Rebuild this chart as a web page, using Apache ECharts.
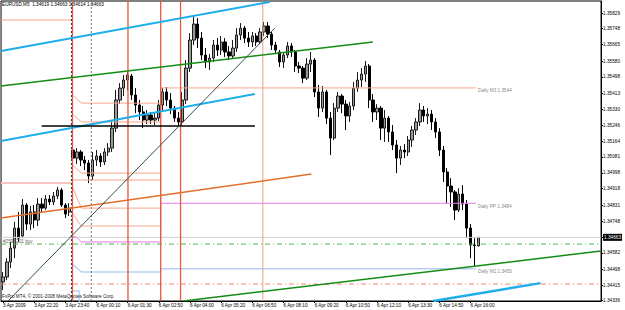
<!DOCTYPE html>
<html><head><meta charset="utf-8">
<script src="https://cdn.jsdelivr.net/npm/echarts@6/dist/echarts.min.js"></script>
<style>html,body{margin:0;padding:0;background:#fff}#c{width:625px;height:310px}</style>
</head><body><div id="c"></div>
<script>
// ---- data ----
const timeLabels = ['3 Apr 2009','3 Apr 22:20','3 Apr 23:40','6 Apr 00:10','6 Apr 01:30','6 Apr 02:50','6 Apr 04:00','6 Apr 05:20','6 Apr 06:50','6 Apr 08:10','6 Apr 09:20','6 Apr 10:50','6 Apr 12:10','6 Apr 13:30','6 Apr 14:50','6 Apr 16:00'];
const yTickLabels = ['1.35829','1.35748','1.35665','1.35580','1.35498','1.35413','1.35330','1.35246','1.35164','1.35081','1.34998','1.34918','1.34831','1.34748','1.34663','1.34582','1.34498','1.34415','1.34336'];
const currentPrice = '1.34663';

const candleOpen = [1.34431,1.34457,1.34535,1.34607,1.34711,1.34670,1.34831,1.34732,1.34795,1.34753,1.34836,1.34815,1.34862,1.34847,1.34878,1.34909,1.34831,1.34795,
1.35117,1.35075,1.35107,1.35065,1.35049,1.34982,1.35065,1.35086,1.35055,1.35107,1.35127,1.35231,1.35377,1.35439,1.35481,1.35502,1.35403,1.35351,1.35315,1.35273,1.35299,1.35273,1.35283,1.35351,1.35419,1.35377,1.35335,1.35283,1.35263,1.35377,1.35543,1.35689,1.35772,1.35699,1.35611,1.35575,1.35595,1.35663,1.35637,1.35679,1.35627,1.35606,1.35647,1.35715,1.35751,1.35699,1.35679,1.35710,1.35679,1.35731,1.35762,1.35720,1.35663,1.35627,1.35575,1.35611,1.35658,1.35627,1.35554,1.35543,1.35491,1.35564,1.35585,1.35419,1.35335,1.35419,1.35283,1.35179,1.35335,1.35398,1.35356,1.35294,1.35346,1.35439,1.35481,1.35512,1.35554,1.35377,1.35315,1.35335,1.35231,1.35283,1.35211,1.35143,1.35075,1.35117,1.35107,1.35169,1.35221,1.35263,1.35325,1.35294,1.35304,1.35263,1.35211,1.35117,1.35003,1.34930,1.34899,1.34805,1.34888,1.34836,1.34711,1.34623,1.34619];
const candleClose = [1.34457,1.34535,1.34607,1.34711,1.34659,1.34831,1.34732,1.34795,1.34753,1.34836,1.34815,1.34862,1.34847,1.34878,1.34909,1.34831,1.34784,1.34815,
1.35075,1.35107,1.35065,1.35049,1.34982,1.35065,1.35086,1.35055,1.35107,1.35127,1.35231,1.35377,1.35439,1.35481,1.35507,1.35403,1.35351,1.35315,1.35273,1.35299,1.35273,1.35283,1.35351,1.35419,1.35377,1.35335,1.35283,1.35263,1.35377,1.35543,1.35689,1.35772,1.35699,1.35611,1.35575,1.35595,1.35663,1.35637,1.35679,1.35627,1.35606,1.35647,1.35715,1.35751,1.35699,1.35679,1.35710,1.35679,1.35731,1.35762,1.35720,1.35663,1.35637,1.35575,1.35611,1.35658,1.35627,1.35554,1.35543,1.35491,1.35564,1.35585,1.35419,1.35335,1.35419,1.35283,1.35179,1.35335,1.35398,1.35356,1.35294,1.35346,1.35439,1.35481,1.35512,1.35554,1.35377,1.35315,1.35335,1.35231,1.35283,1.35211,1.35143,1.35075,1.35117,1.35107,1.35169,1.35221,1.35263,1.35325,1.35294,1.35304,1.35263,1.35211,1.35117,1.35003,1.34930,1.34899,1.34805,1.34888,1.34836,1.34711,1.34623,1.34620,1.34663];
const candleLow = [1.34389,1.34441,1.34503,1.34555,1.34639,1.34659,1.34701,1.34701,1.34711,1.34722,1.34795,1.34805,1.34831,1.34831,1.34862,1.34821,1.34763,1.34774,
1.35055,1.35044,1.35034,1.35013,1.34945,1.34961,1.35034,1.35029,1.35039,1.35086,1.35107,1.35211,1.35356,1.35398,1.35429,1.35377,1.35309,1.35273,1.35231,1.35252,1.35252,1.35247,1.35268,1.35325,1.35346,1.35304,1.35263,1.35242,1.35247,1.35356,1.35523,1.35663,1.35647,1.35585,1.35543,1.35533,1.35575,1.35606,1.35611,1.35601,1.35585,1.35595,1.35627,1.35689,1.35673,1.35653,1.35653,1.35658,1.35668,1.35710,1.35699,1.35637,1.35616,1.35549,1.35543,1.35595,1.35601,1.35523,1.35517,1.35465,1.35481,1.35523,1.35393,1.35289,1.35315,1.35252,1.35091,1.35169,1.35315,1.35309,1.35221,1.35263,1.35325,1.35419,1.35445,1.35471,1.35335,1.35263,1.35273,1.35169,1.35159,1.35159,1.35117,1.34997,1.35039,1.35075,1.35086,1.35133,1.35195,1.35242,1.35263,1.35252,1.35221,1.35179,1.35086,1.34951,1.34841,1.34821,1.34753,1.34795,1.34805,1.34659,1.34555,1.34509,1.34614];
const candleHigh = [1.34483,1.34555,1.34639,1.34743,1.34795,1.34862,1.34841,1.34826,1.34831,1.34867,1.34867,1.34883,1.34883,1.34899,1.34925,1.34919,1.34841,1.34841,
1.35138,1.35127,1.35117,1.35086,1.35065,1.35107,1.35117,1.35101,1.35127,1.35153,1.35273,1.35429,1.35465,1.35507,1.35523,1.35512,1.35439,1.35377,1.35346,1.35325,1.35315,1.35309,1.35377,1.35439,1.35445,1.35413,1.35346,1.35315,1.35419,1.35585,1.35725,1.35819,1.35803,1.35731,1.35647,1.35616,1.35689,1.35699,1.35710,1.35699,1.35658,1.35689,1.35751,1.35777,1.35762,1.35731,1.35731,1.35725,1.35751,1.35783,1.35783,1.35731,1.35679,1.35637,1.35627,1.35679,1.35673,1.35637,1.35575,1.35554,1.35595,1.35627,1.35595,1.35455,1.35450,1.35429,1.35315,1.35361,1.35419,1.35408,1.35377,1.35367,1.35471,1.35523,1.35543,1.35580,1.35564,1.35408,1.35356,1.35346,1.35325,1.35294,1.35247,1.35169,1.35138,1.35148,1.35190,1.35242,1.35283,1.35361,1.35346,1.35335,1.35325,1.35283,1.35231,1.35138,1.35023,1.34971,1.34909,1.34919,1.34935,1.34857,1.34732,1.34659,1.34663];

// overlay objects: [bar position, price]
const cyanTop   = [[0,1.35632],[68.97,1.35887]];
const cyanMid   = [[0,1.35164],[65.16,1.35408]];
const cyanLow   = [[110.97,1.34332],[138.46,1.34425]];
const greenTop  = [[0,1.35450],[95.44,1.35679]];
const greenLow  = [[46.83,1.34332],[153.98,1.34592]];
const orangeLine= [[0,1.34763],[79.66,1.34992]];
const blackLine = [[10.44,1.35242],[65.16,1.35242]];
const slateLine = [[1.78,1.34332],[70.25,1.35751]];

const friSalmon = [[0,1.35793],[18.33,1.35793]];
const friPink   = [[0,1.34945],[18.33,1.34945]];
const monSalmon = [
  [[18.33,1.35403],[20.62,1.35361],[40.98,1.35361]],
  [[18.33,1.35304],[20.62,1.35263],[40.98,1.35263]],
  [[18.33,1.35039],[20.62,1.34997],[40.98,1.34997]],
  [[18.33,1.34961],[40.98,1.34961]],
  [[18.33,1.34925],[20.62,1.34815],[40.98,1.34815]],
  [[18.33,1.34789],[20.62,1.34722],[40.98,1.34722]]
];
const pivotM3 = [[40.98,1.34722],[40.98,1.3544],[121.91,1.3544]];
const pivotPP = [[18.33,1.3430],[18.33,1.34665],[19.34,1.34665],[20.62,1.34639],[40.98,1.34639],[40.98,1.3484],[121.91,1.3484]];
const pivotM2 = [[18.33,1.34524],[20.62,1.34483],[40.98,1.34483],[40.98,1.3450],[121.91,1.3450]];
const blueStep = [[18.33,1.34384],[20.11,1.34384],[20.11,1.3430]];
const pivotLabels = ['Daily M3 1.3544','Daily PP 1.3484','Daily M2 1.3450'];

const redVerticals = [18.33, 32.58, 40.98, 46.07];
const lightRedVertical = 67.19;
const dashedVerticals = [18.07, 23.16];
const bidPrice = 1.34663, orderPrice = 1.34628, stopPrice = 1.34420;

const yMin = 1.34332, yMax = 1.35892, nCats = 154;
// ---------------------------------

const FF = 'Liberation Sans, Arial, sans-serif';
const FS = 4.7;
const cats = Array.from({length:nCats}, (_, i) => String(i));
const labelShown = (idx) => idx % 8 === 0 && (idx / 8) < timeLabels.length;
const yTickValues = yTickLabels.map(Number);
const candleData = candleOpen.map((o, i) => [o, candleClose[i], candleLow[i], candleHigh[i]]);
const vLine = (u) => [[u, yMin], [u, yMax]];
const hLine = (p) => [[0, p], [nCats, p]];

function ln(data, color, width, extra) {
  return Object.assign({
    type:'line', xAxisIndex:1, yAxisIndex:0, data, symbol:'none', silent:true, clip:true,
    lineStyle:{color, width}, z:3, animation:false
  }, extra || {});
}
function endLbl(text){ return {endLabel:{show:true, formatter:text, color:'#8a8a8a', fontSize:FS, fontFamily:FF, distance:2, offset:[0,3]}}; }

const series = [
  {type:'candlestick', xAxisIndex:0, yAxisIndex:0, data:candleData, barWidth:2.8, z:2, silent:true,
   itemStyle:{color:'#9a9a9a', color0:'#000000', borderColor:'#1a1a1a', borderColor0:'#000000', borderWidth:1}},
  ln(hLine(bidPrice), '#CFCFCF', 1),
  ln(hLine(orderPrice), '#46B946', 1, {lineStyle:{color:'#46B946', width:1, type:[5,3,1,3]}}),
  ln(hLine(stopPrice), '#F08272', 1, {lineStyle:{color:'#F08272', width:1, type:[5,3,1,3]}}),
  ln(friSalmon, '#F6A68E', 1),
  ln(friPink, '#F7C4C4', 2),
  ...monSalmon.map(d => ln(d, '#F6A68E', 1)),
  ln(pivotM3, '#F6A68E', 1, endLbl(pivotLabels[0])),
  ln(pivotPP, '#E77EE6', 1, endLbl(pivotLabels[1])),
  ln(pivotM2, '#B9CFF6', 1.5, endLbl(pivotLabels[2])),
  ln(blueStep, '#B9CFF6', 1.5),
  ...redVerticals.map(u => ln(vLine(u), '#E8573F', 1.3)),
  ln(vLine(lightRedVertical), '#F29A8A', 1),
  ...dashedVerticals.map((u, k) => ln(vLine(u), '#000', 1, {lineStyle:{color: k === 0 ? '#333333' : '#777777', width:1, type:[2,2]}})),
  ln(cyanTop, '#1FAEEB', 2),
  ln(cyanMid, '#1FAEEB', 2),
  ln(cyanLow, '#1FAEEB', 2.5),
  ln(greenTop, '#148C14', 1.5),
  ln(greenLow, '#148C14', 1.5),
  ln(orangeLine, '#E0702A', 1.5),
  ln(blackLine, '#000000', 1.5),
  ln(slateLine, '#2F4F4F', 1)
];

const chart = echarts.init(document.getElementById('c'), null, {renderer:'svg'});
chart.setOption({
  animation:false,
  backgroundColor:'#ffffff',
  textStyle:{fontFamily:FF},
  title:[
    {text:'EURUSD,M5  1.34619 1.34663 1.34614 1.34663', left:2, top:2, padding:0,
     textStyle:{fontSize:FS, fontWeight:'normal', color:'#000', fontFamily:FF}},
    {text:'FxPro MT4, © 2001-2008 MetaQuotes Software Corp.', left:2, top:294, padding:0,
     textStyle:{fontSize:FS, fontWeight:'normal', color:'#222', fontFamily:FF}},
    {text:'#2594201 buy', left:3, top:239, padding:0,
     textStyle:{fontSize:FS, fontWeight:'normal', color:'#666', fontFamily:FF}}
  ],
  grid:{left:1, right:19, top:1, bottom:9, show:true, borderColor:'#000', borderWidth:1, backgroundColor:'transparent'},
  xAxis:[
    {type:'category', data:cats, boundaryGap:true,
     axisLine:{show:true, lineStyle:{color:'#000', width:1}},
     axisTick:{show:true, interval:labelShown, alignWithLabel:true, length:2, lineStyle:{color:'#000'}},
     axisLabel:{interval:labelShown, formatter:(v, idx) => timeLabels[Number(v)/8] || '', fontSize:FS, color:'#000', margin:2, align:'left', fontFamily:FF},
     splitLine:{show:false}},
    {type:'value', min:0, max:nCats, show:false}
  ],
  yAxis:{type:'value', position:'right', min:yMin, max:yMax, scale:true,
    axisLine:{show:true, onZero:false, lineStyle:{color:'#000', width:1}},
    axisTick:{show:true, length:2, customValues:yTickValues, lineStyle:{color:'#000'}},
    axisLabel:{customValues:yTickValues, fontSize:FS, margin:2, color:'#000', fontFamily:FF,
      formatter:(v) => {
        const k = yTickValues.findIndex(t => Math.abs(t - v) < 1e-7);
        const s = k >= 0 ? yTickLabels[k] : '';
        return s === currentPrice ? '{cur|' + s + '}' : s;
      },
      rich:{cur:{backgroundColor:'#000', color:'#fff', fontSize:FS, padding:[1,1,1,1], fontFamily:FF}}},
    splitLine:{show:false}},
  series
});
</script></body></html>
